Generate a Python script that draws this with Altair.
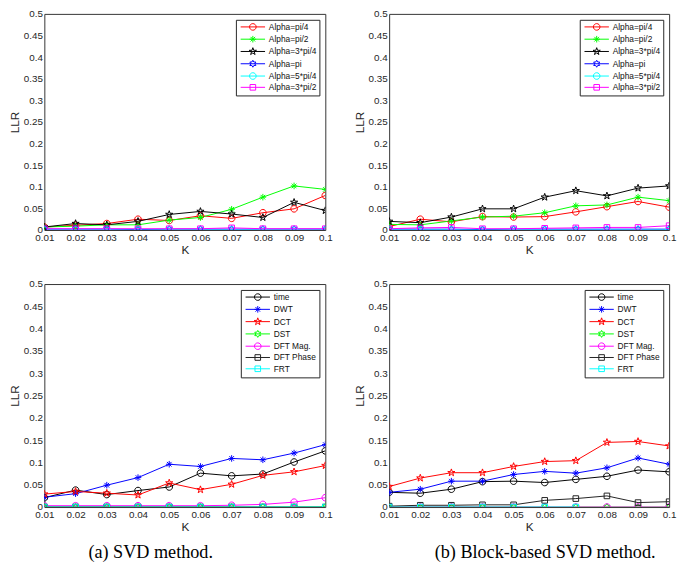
import math
import altair as alt
import pandas as pd

# ---------------- data ----------------
K = [0.01, 0.02, 0.03, 0.04, 0.05, 0.06, 0.07, 0.08, 0.09, 0.1]

alpha_names = ["Alpha=pi/4", "Alpha=pi/2", "Alpha=3*pi/4", "Alpha=pi", "Alpha=5*pi/4", "Alpha=3*pi/2"]
alpha_colors = ["#FF0000", "#00FF00", "#000000", "#0000FF", "#00FFFF", "#FF00FF"]
alpha_markers = ["circle", "asterisk", "pentagram", "hexagram", "circle", "square"]

method_names = ["time", "DWT", "DCT", "DST", "DFT Mag.", "DFT Phase", "FRT"]
method_colors = ["#000000", "#0000FF", "#FF0000", "#00FF00", "#FF00FF", "#222222", "#00FFFF"]
method_markers = ["circle", "asterisk", "pentagram", "hexagram", "circle", "square", "square"]

# (a) SVD method, rotation attack
svd_pi4 = [0.007, 0.011, 0.015, 0.025, 0.022, 0.033, 0.027, 0.040, 0.049, 0.080]
svd_pi2 = [0.007, 0.009, 0.012, 0.012, 0.023, 0.029, 0.048, 0.076, 0.102, 0.094]
svd_3pi4 = [0.007, 0.015, 0.012, 0.020, 0.036, 0.043, 0.037, 0.029, 0.064, 0.045]
svd_pi = [0.002, 0.002, 0.002, 0.001, 0.002, 0.002, 0.002, 0.002, 0.002, 0.002]
svd_5pi4 = [0.0, 0.0, 0.0, 0.0, 0.0, 0.0, 0.0, 0.0, 0.0, 0.0]
svd_3pi2 = [0.003, 0.003, 0.003, 0.003, 0.003, 0.003, 0.005, 0.003, 0.003, 0.003]

# (b) Block-based SVD method, rotation attack
blk_pi4 = [0.008, 0.025, 0.019, 0.031, 0.030, 0.031, 0.042, 0.054, 0.066, 0.053]
blk_pi2 = [0.013, 0.012, 0.021, 0.030, 0.032, 0.040, 0.056, 0.058, 0.076, 0.068]
blk_3pi4 = [0.020, 0.017, 0.030, 0.049, 0.049, 0.076, 0.091, 0.079, 0.097, 0.102]
blk_pi = [0.002, 0.002, 0.002, 0.001, 0.002, 0.002, 0.002, 0.002, 0.002, 0.002]
blk_5pi4 = [0.0, 0.0, 0.0, 0.0, 0.0, 0.0, 0.0, 0.0, 0.0, 0.0]
blk_3pi2 = [0.003, 0.005, 0.006, 0.003, 0.003, 0.004, 0.005, 0.006, 0.006, 0.010]

# (a) SVD method, domains
svd_time = [0.021, 0.038, 0.028, 0.037, 0.045, 0.076, 0.070, 0.074, 0.101, 0.126]
svd_dwt = [0.022, 0.030, 0.049, 0.066, 0.096, 0.091, 0.109, 0.106, 0.121, 0.140]
svd_dct = [0.029, 0.035, 0.031, 0.027, 0.054, 0.039, 0.051, 0.071, 0.079, 0.093]
svd_dst = [0.0, 0.0, 0.0, 0.0, 0.0, 0.0, 0.0, 0.0, 0.0, 0.0]
svd_mag = [0.003, 0.003, 0.003, 0.003, 0.003, 0.003, 0.004, 0.006, 0.011, 0.021]
svd_phase = [0.0, 0.0, 0.0, 0.0, 0.0, 0.0, 0.0, 0.0, 0.0, 0.0]
svd_frt = [0.0, 0.0, 0.0, 0.0, 0.0, 0.0, 0.0, 0.0, 0.0, 0.0]

# (b) Block-based SVD method, domains
blk_time = [0.033, 0.031, 0.040, 0.057, 0.058, 0.055, 0.062, 0.069, 0.083, 0.079]
blk_dwt = [0.033, 0.040, 0.058, 0.058, 0.073, 0.080, 0.076, 0.088, 0.110, 0.096]
blk_dct = [0.046, 0.065, 0.077, 0.077, 0.091, 0.102, 0.104, 0.145, 0.147, 0.137]
blk_dst = [0.0, 0.0, 0.0, 0.0, 0.0, 0.0, 0.0, 0.0, 0.0, 0.0]
blk_mag = [0.0, 0.0, 0.0, 0.0, 0.0, 0.0, 0.0, 0.0, 0.0, 0.0]
blk_phase = [0.002, 0.004, 0.004, 0.005, 0.005, 0.015, 0.019, 0.025, 0.010, 0.012]
blk_frt = [0.0, 0.0, 0.0, 0.0, 0.0, 0.0, 0.0, None, None, None]

Y_TICKS = [0, 0.05, 0.1, 0.15, 0.2, 0.25, 0.3, 0.35, 0.4, 0.45, 0.5]


# ---------------- marker shapes (unit square paths) ----------------
def star_path(n, r_out, r_in):
    pts = []
    for i in range(2 * n):
        r = r_out if i % 2 == 0 else r_in
        a = -math.pi / 2 + i * math.pi / n
        pts.append(f"{r * math.cos(a):.3f},{r * math.sin(a):.3f}")
    return "M" + "L".join(pts) + "Z"


MARKS = {
    "circle": "M-1,0A1,1 0 1,1 1,0A1,1 0 1,1 -1,0Z",
    "asterisk": "M-1,0L1,0M0,-1L0,1M-0.7,-0.7L0.7,0.7M-0.7,0.7L0.7,-0.7",
    "pentagram": star_path(5, 1.15, 0.45),
    "hexagram": star_path(6, 1.05, 0.6),
    "square": "M-0.85,-0.85L0.85,-0.85L0.85,0.85L-0.85,0.85Z",
}
LEG_LINE = "M-3.7,0L3.7,0"


def make_df(names, series):
    rows = []
    for n, vals in zip(names, series):
        for k, v in zip(K, vals):
            rows.append({"K": k, "LLR": v, "series": n})
    return pd.DataFrame(rows)


def make_legend():
    return alt.Legend(
        title=None,
        orient="top-right",
        offset=6,
        fillColor="white",
        strokeColor="#262626",
        padding=3,
        labelFont="Liberation Sans",
        labelFontSize=8.5,
        labelColor="#111111",
        rowPadding=0.5,
        symbolOffset=10,
        labelOffset=12,
        symbolSize=45,
        symbolStrokeWidth=1,
        symbolFillColor="transparent",
    )


def panel(df, names, colors, markers, width, height):
    cs = alt.Scale(domain=names, range=colors)
    ss = alt.Scale(domain=names, range=[LEG_LINE + MARKS[m] for m in markers])
    leg = make_legend()
    x = alt.X(
        "K:Q",
        scale=alt.Scale(domain=[0.01, 0.1], nice=False, zero=False),
        axis=alt.Axis(values=K, format="~g", title="K", grid=False, ticks=False, domain=False,
                      labelFlush=False, labelOverlap=False, labelPadding=3, titlePadding=2),
    )
    y = alt.Y(
        "LLR:Q",
        scale=alt.Scale(domain=[0, 0.5], nice=False),
        axis=alt.Axis(values=Y_TICKS, format="~g", title="LLR", grid=False, ticks=False, domain=False,
                      labelFlush=False, labelOverlap=False, labelPadding=2, titlePadding=2),
    )
    color = alt.Color("series:N", scale=cs, legend=leg)
    base = alt.Chart(df)
    layers = [base.mark_line(strokeWidth=1, clip=True).encode(x=x, y=y, color=color)]
    for n, m in zip(names, markers):
        layers.append(
            base.transform_filter(alt.datum.series == n)
            .mark_point(shape=MARKS[m], filled=False, size=45, strokeWidth=1, opacity=1, clip=True)
            .encode(x=x, y=y, color=color)
        )
    # legend carrier (hidden outside the clipped plot area)
    layers.append(
        base.mark_point(filled=False, size=45, strokeWidth=1, opacity=1, clip=True).encode(
            x=alt.value(-200), y=alt.value(-200), color=color,
            shape=alt.Shape("series:N", scale=ss, legend=leg),
        )
    )
    return alt.layer(*layers).properties(width=width, height=height)


df1 = make_df(alpha_names, [svd_pi4, svd_pi2, svd_3pi4, svd_pi, svd_5pi4, svd_3pi2])
df2 = make_df(alpha_names, [blk_pi4, blk_pi2, blk_3pi4, blk_pi, blk_5pi4, blk_3pi2])
df3 = make_df(method_names, [svd_time, svd_dwt, svd_dct, svd_dst, svd_mag, svd_phase, svd_frt])
df4 = make_df(method_names, [blk_time, blk_dwt, blk_dct, blk_dst, blk_mag, blk_phase, blk_frt])

p1 = panel(df1, alpha_names, alpha_colors, alpha_markers, 286, 220)
p2 = panel(df2, alpha_names, alpha_colors, alpha_markers, 285, 220)
p3 = panel(df3, method_names, method_colors, method_markers, 286, 227)
p4 = panel(df4, method_names, method_colors, method_markers, 285, 227)


def caption(text, dx):
    return alt.TitleParams(text, orient="bottom", anchor="middle", font="Liberation Serif",
                           fontSize=18.5, fontWeight="normal", color="black", offset=10, dx=dx)


def indep(c):
    return c.resolve_scale(color="independent", shape="independent").resolve_legend(
        color="independent", shape="independent")


col1 = indep(alt.vconcat(p1, p3, spacing=22, title=caption("(a) SVD method.", -20)))
col2 = indep(alt.vconcat(p2, p4, spacing=22, title=caption("(b) Block-based SVD method.", 31)))

chart = (
    indep(alt.hconcat(col1, col2, spacing=20))
    .properties(padding={"left": 0, "top": -5, "right": 0, "bottom": 0})
    .configure_view(stroke="#333333", strokeWidth=1)
    .configure_axis(labelFont="Liberation Sans", titleFont="Liberation Sans", labelFontSize=10,
                    titleFontSize=12, titleFontWeight="normal", labelColor="#262626",
                    titleColor="#262626")
)

chart.save("out.html", embed_options={"renderer": "svg", "actions": False})
